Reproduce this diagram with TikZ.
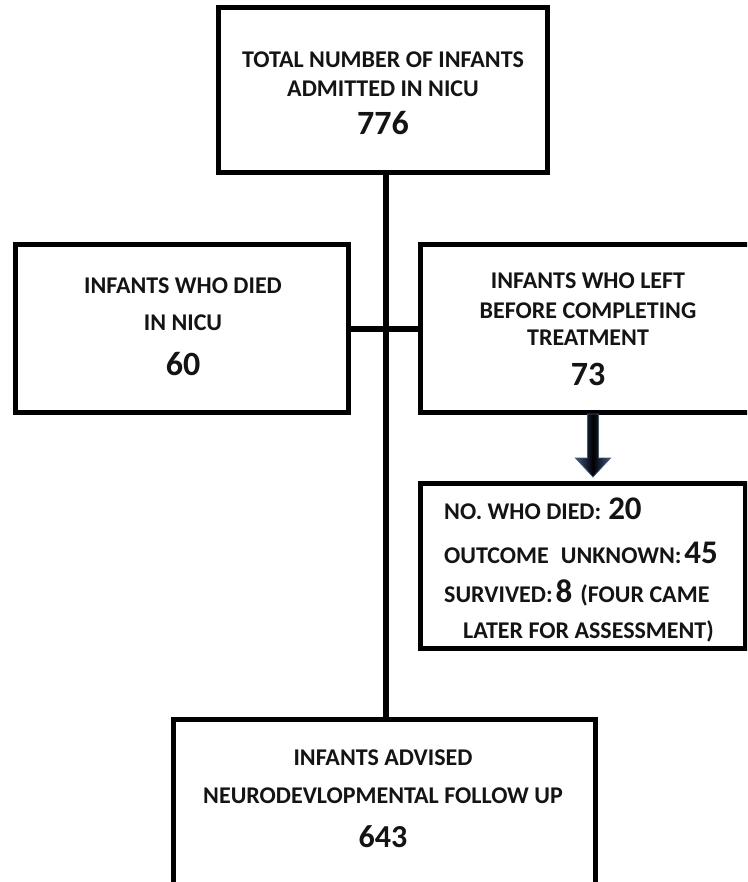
\documentclass[tikz,border=0pt]{standalone}
\usepackage{fontspec}
\setmainfont{Carlito}
\definecolor{arrowedge}{RGB}{64,90,130}
\definecolor{txt}{RGB}{20,20,20}
\tikzset{
  boxs/.style={draw=black, line width=5pt, fill=white, inner sep=0pt},
  conn/.style={draw=black, line width=6pt},
  lbl/.style={font=\fontsize{24}{28}\selectfont\bfseries, text=txt, anchor=base, inner sep=0pt},
  lblw/.style={lbl, anchor=base west},
  num/.style={font=\fontsize{34}{40}\selectfont\bfseries, text=txt, anchor=base, inner sep=0pt},
  arrowfill/.style={left color=arrowedge, right color=arrowedge, middle color=black, draw=arrowedge, line width=0.8pt}
}
\newcommand{\subnum}[1]{{\fontsize{33}{38}\selectfont #1}}
\begin{document}
\begin{tikzpicture}[x=1pt,y=-1pt]
\useasboundingbox (0,0) rectangle (747,882);
\fill[white] (0,0) rectangle (747,882);
\clip (0,0) rectangle (747,882);
% boxes
\node[boxs, minimum width=329pt, minimum height=165pt] (top) at (382.5,90.5) {};
\node[boxs, minimum width=333pt, minimum height=167pt] (left) at (181.5,328.5) {};
\node[boxs, minimum width=337pt, minimum height=167pt] (right) at (588.5,328.5) {};
\node[boxs, minimum width=325pt, minimum height=165pt] (sub) at (582.5,565.5) {};
\node[boxs, minimum width=422pt, minimum height=186pt] (bot) at (384,812) {};
% connectors
\coordinate (tk) at (386,0);
\draw[conn] (top.south -| tk) -- (bot.north -| tk);
\draw[conn] (left.east) -- (right.west);
% block arrow
\coordinate (as) at (593,414);
\coordinate (ae) at (593,477);
\path[arrowfill] (as) ++(-5.5,0) -- ++(11,0) -- ++(0,44) -- ++(12,0) -- (ae) -- ++(-17.5,-19) -- ++(12,0) -- cycle;
% texts
\node[lbl] (t1) at (383,68) {TOTAL NUMBER OF INFANTS};
\node[lbl] (t2) at (383,97) {ADMITTED IN NICU};
\node[num] (t3) at (383,135) {776};
\node[lbl] (l1) at (183,293) {INFANTS WHO DIED};
\node[lbl] (l2) at (183,330) {IN NICU};
\node[num] (l3) at (183,375) {60};
\node[lbl] (r1) at (588,288) {INFANTS WHO LEFT};
\node[lbl] (r2) at (588,318) {BEFORE COMPLETING};
\node[lbl] (r3) at (588,345) {TREATMENT};
\node[num] (r4) at (588,385) {73};
\node[lblw] (s1) at (444,519) {NO. WHO DIED:\hspace{7pt}\subnum{20}};
\node[lblw] (s2) at (444,563) {OUTCOME\hspace{12pt}UNKNOWN:\hspace{3pt}\subnum{45}};
\node[lblw] (s3) at (444,602) {SURVIVED:\hspace{3pt}\subnum{8}\hspace{8pt}(FOUR CAME};
\node[lblw] (s4) at (463,638) {LATER FOR ASSESSMENT)};
\node[lbl] (b1) at (383,765) {INFANTS ADVISED};
\node[lbl] (b2) at (383,803) {NEURODEVLOPMENTAL FOLLOW UP};
\node[num, font=\fontsize{32}{38}\selectfont\bfseries] (b3) at (383,847) {643};
\end{tikzpicture}
\end{document}
